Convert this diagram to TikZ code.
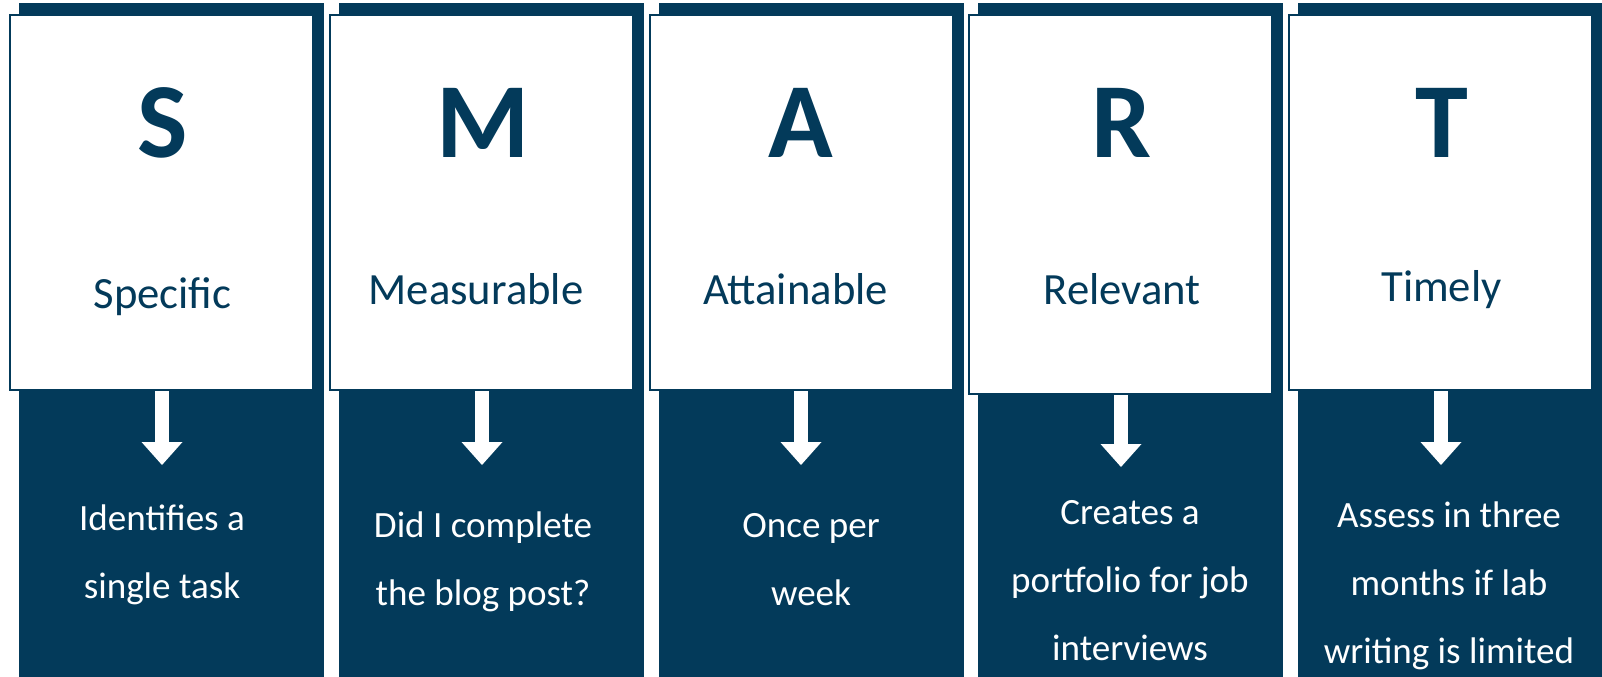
\documentclass[tikz,border=0pt]{standalone}
\usepackage{fontspec}
\setmainfont{Carlito}
\usepackage{tikz}
\usepackage{xcolor}
\usetikzlibrary{positioning, arrows.meta}

\definecolor{smartblue}{HTML}{033A5A}

\begin{document}
\begin{tikzpicture}[x=0.75pt, y=-0.75pt,
        back/.style={rectangle, fill=smartblue, inner sep=0pt, minimum width=228.75pt, minimum height=505.5pt, anchor=north west},
        card/.style={rectangle, draw=smartblue, line width=1.8pt, fill=white, inner sep=0pt, minimum width=227pt, minimum height=281pt, anchor=north west},
        letter/.style={anchor=base, inner sep=0pt, text=smartblue, font=\fontsize{80}{80}\selectfont\bfseries},
        word/.style={anchor=base, inner sep=0pt, text=smartblue, font=\fontsize{33.5}{40}\selectfont},
        desc/.style={anchor=base, inner sep=0pt, text=white, align=center, font=\fontsize{27.8}{51}\selectfont},
        pointer/.style={white, line width=10.5pt, -{Triangle[width=30.75pt, length=17.25pt, line width=0pt]}}]
            \useasboundingbox (0,0) rectangle (1602,677);

            \node[back] (b1) at (19, 3) {};
            \node[back] (b2) at (339, 3) {};
            \node[back] (b3) at (659, 3) {};
            \node[back] (b4) at (978, 3) {};
            \node[back] (b5) at (1298, 3) {};

            \node[card] (w1) at (9, 14) {};
            \node[card] (w2) at (329, 14) {};
            \node[card] (w3) at (649, 14) {};
            \node[card, minimum height=284pt] (w4) at (968, 14) {};
            \node[card] (w5) at (1288, 14) {};

            \node[letter] (l1) at (163, 158) {S};
            \node[letter] (l2) at (483, 158) {M};
            \node[letter] (l3) at (801, 158) {A};
            \node[letter] (l4) at (1122, 158) {R};
            \node[letter] (l5) at (1442, 158) {T};

            \node[word] (n1) at (162.5, 308) {Specific};
            \node[word] (n2) at (476, 305) {Measurable};
            \node[word] (n3) at (795.5, 304.5) {Attainable};
            \node[word] (n4) at (1122, 304.5) {Relevant};
            \node[word] (n5) at (1441.5, 301) {Timely};

            \coordinate (a1) at (162, 465);
            \coordinate (a2) at (482, 465);
            \coordinate (a3) at (801, 465);
            \coordinate (a4) at (1121, 467);
            \coordinate (a5) at (1441, 465);

            % base = last line
            \node[desc] (d1) at (162, 598) {Identifies a\\single task};
            \node[desc] (d2) at (483, 605) {Did I complete\\the blog post?};
            \node[desc] (d3) at (811, 605) {Once per\\week};
            \node[desc] (d4) at (1130, 660) {Creates a\\portfolio for job\\interviews};
            \node[desc] (d5) at (1449, 663) {Assess in three\\months if lab\\writing is limited};

            \draw[pointer] (a1 |- w1.south) -- (a1);
            \draw[pointer] (a2 |- w2.south) -- (a2);
            \draw[pointer] (a3 |- w3.south) -- (a3);
            \draw[pointer] (a4 |- w4.south) -- (a4);
            \draw[pointer] (a5 |- w5.south) -- (a5);
        \end{tikzpicture}
\end{document}
